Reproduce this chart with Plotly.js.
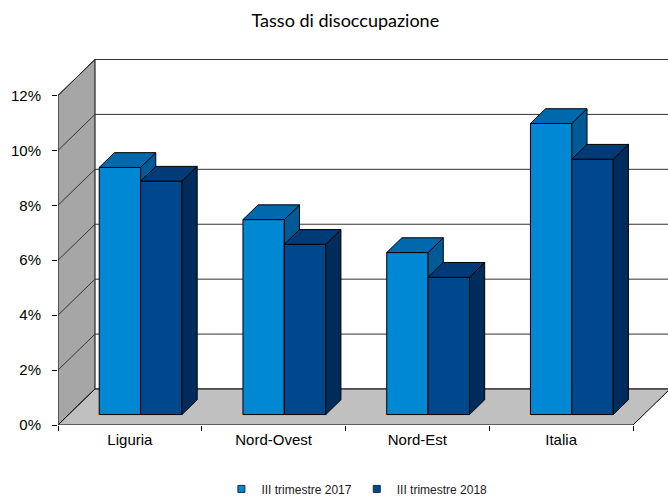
<!DOCTYPE html>
<html>
<head>
<meta charset="utf-8">
<script src="https://cdn.plot.ly/plotly-3.0.1.min.js"></script>
<style>html,body{margin:0;padding:0;background:#fff;}#chart{width:668px;height:497px;}</style>
</head>
<body>
<div id="chart"></div>
<script>
// ---- data ----
const categories = ['Liguria', 'Nord-Ovest', 'Nord-Est', 'Italia'];
const seriesNames = ['III trimestre 2017', 'III trimestre 2018'];
const values2017 = [9.0, 7.1, 5.9, 10.6];
const values2018 = [8.5, 6.2, 5.0, 9.3];
const yTickValues = [0, 2, 4, 6, 8, 10, 12];
const yTickLabels = ['0%', '2%', '4%', '6%', '8%', '10%', '12%'];

// ---- geometry (layout, not data) ----
const W = 668, H = 497;
const M = {l: 58, r: 0, t: 59, b: 72, autoexpand: false};
const plotW = W - M.l - M.r, plotH = H - M.t - M.b;
const pxPerCat = 143.75;
const pxPerUnit = 27.46;
const xMin = -0.5, xMax = xMin + plotW / pxPerCat;
const yMax = plotH / pxPerUnit;
const DX = 37 / pxPerCat;   // depth offset in x units
const DY = 36 / pxPerUnit;  // depth offset in y units
const f0 = 0.29, f1 = 0.70; // bar front/back depth fractions
const barW = 41.4 / pxPerCat;
const nCat = categories.length;

const lineCol = '#000';
const gridCol = '#333';
const frontCols = ['#0088d4', '#00488e'];
const topCols = ['#0069ae', '#003b78'];
const sideCols = ['#005a96', '#002c5c'];

const traces = [];
function poly(xs, ys, fill, lc) {
  return {type: 'scatter', mode: 'lines', x: xs, y: ys, fill: 'toself', fillcolor: fill,
    line: {color: lc || lineCol, width: 1}, hoverinfo: 'skip', showlegend: false};
}

// left wall
traces.push(poly([xMin, xMin, xMin + DX, xMin + DX, xMin], [0, 12, 12 + DY, DY, 0], '#a6a6a6'));

// gridlines: diagonal on left wall + horizontal on back wall
const gx = [], gy = [];
yTickValues.forEach(v => {
  gx.push(xMin, xMin + DX, xMax + 1, null);
  gy.push(v, v + DY, v + DY, null);
});
traces.push({type: 'scatter', mode: 'lines', x: gx, y: gy, line: {color: gridCol, width: 1},
  hoverinfo: 'skip', showlegend: false});

// floor
traces.push(poly([xMin, nCat - 0.5, nCat - 0.5 + DX, xMin + DX, xMin], [0, 0, DY, DY, 0], '#c0c0c0'));

// bars (3 faces each)
const seriesVals = [values2017, values2018];
seriesVals.forEach((vals, s) => {
  const fx = [], fy = [], tx = [], ty = [], sx = [], sy = [];
  const a = f0 * DX, b = f0 * DY, c = f1 * DX, d = f1 * DY;
  vals.forEach((v, i) => {
    const x0 = i - barW + s * barW, x1 = x0 + barW;
    fx.push(x0 + a, x1 + a, x1 + a, x0 + a, x0 + a, null);
    fy.push(b, b, v + b, v + b, b, null);
    sx.push(x1 + a, x1 + c, x1 + c, x1 + a, x1 + a, null);
    sy.push(b, d, v + d, v + b, b, null);
    tx.push(x0 + a, x1 + a, x1 + c, x0 + c, x0 + a, null);
    ty.push(v + b, v + b, v + d, v + d, v + b, null);
  });
  traces.push(poly(fx, fy, frontCols[s]));
  traces.push(poly(sx, sy, sideCols[s]));
  traces.push(poly(tx, ty, topCols[s]));
});

// legend entries
seriesNames.forEach((name, s) => {
  traces.push({type: 'scatter', mode: 'markers', x: [null], y: [null], name: name,
    marker: {symbol: 'square', size: 7, color: frontCols[s], line: {color: '#1b2a44', width: 1}},
    hoverinfo: 'skip', showlegend: true});
});

// invisible trace for tick axis
const boundaries = [];
for (let i = 0; i <= nCat; i++) boundaries.push(i - 0.5);
traces.push({type: 'scatter', mode: 'markers', x: [boundaries[0]], y: [0], xaxis: 'x2',
  marker: {opacity: 0}, hoverinfo: 'skip', showlegend: false});

const catPositions = categories.map((c, i) => i);

const layout = {
  width: W, height: H,
  margin: M,
  paper_bgcolor: '#fff', plot_bgcolor: 'rgba(0,0,0,0)',
  font: {family: 'Liberation Sans, Arial, sans-serif', color: '#000'},
  title: {text: 'Tasso di disoccupazione', font: {family: 'Lato, sans-serif', size: 18, color: '#000'},
    x: 0.517, xanchor: 'center', y: 0.958, yanchor: 'middle'},
  showlegend: true,
  legend: {orientation: 'h', x: 0.49, xanchor: 'center', y: -0.135, yanchor: 'top',
    font: {family: 'Liberation Sans, Arial, sans-serif', size: 12, color: '#1a1a1a'}},
  xaxis: {range: [xMin, xMax], showgrid: false, zeroline: false, showline: false,
    tickvals: catPositions, ticktext: categories, ticks: '',
    tickfont: {size: 15, color: '#000'}, ticklabelstandoff: 4, fixedrange: true},
  xaxis2: {range: [xMin, xMax], overlaying: 'x', side: 'bottom', showgrid: false, zeroline: false,
    showline: false, tickvals: boundaries, showticklabels: false, ticks: 'outside', ticklen: 5,
    tickcolor: '#000', tickwidth: 1, fixedrange: true},
  yaxis: {range: [0, yMax], showgrid: false, zeroline: false, showline: false,
    tickvals: yTickValues, ticktext: yTickLabels, ticks: 'outside', ticklen: 5, tickcolor: '#000',
    tickwidth: 1, tickfont: {size: 15, color: '#000'}, ticklabelstandoff: 8, fixedrange: true}
};

Plotly.newPlot('chart', traces, layout, {staticPlot: true, displayModeBar: false});
</script>
</body>
</html>
